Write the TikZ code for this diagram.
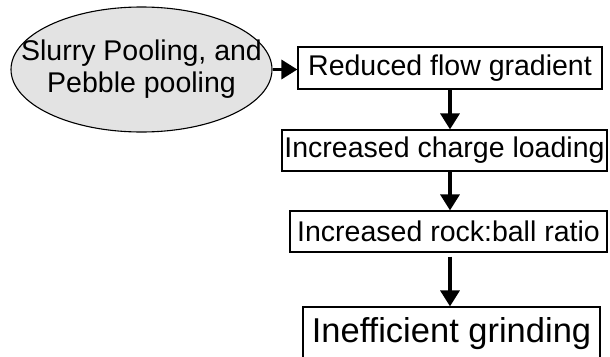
\documentclass[tikz,border=0pt]{standalone}
\usepackage{fontspec}
\setmainfont{Liberation Sans}
\usetikzlibrary{arrows.meta,shapes.geometric}
\definecolor{ellfill}{RGB}{227,227,227}
\begin{document}
\begin{tikzpicture}[x=1pt,y=-1pt,
  txt/.style={font=\fontsize{28.5}{32}\selectfont},
  flowbox/.style={draw, line width=1.2pt, rectangle, inner sep=0pt, txt},
  conn/.style={line width=3.4pt, -{Triangle[length=16pt,width=19pt]}}]
\clip (0,0) rectangle (610,356);
\node[ellipse, draw, fill=ellfill, line width=1.1pt, minimum width=261pt, minimum height=125pt, inner sep=0pt] (src) at (141.5,69.5) {};
\node[txt, align=center, inner sep=0pt] (srctxt) at (src.center) {Slurry Pooling, and\\Pebble pooling};
\node[flowbox, minimum width=304pt, minimum height=42pt] (b1) at (450,68) {Reduced flow gradient};
\node[flowbox, minimum width=325pt, minimum height=41pt] (b2) at (444.5,150.5) {Increased charge loading};
\node[flowbox, minimum width=317pt, minimum height=41pt] (b3) at (448.5,231.5) {Increased rock:ball ratio};
\node[flowbox, minimum width=297pt, minimum height=53pt, font=\fontsize{34.5}{40}\selectfont] (b4) at (451.5,333.5) {Inefficient grinding};
\draw[conn] (src.east) -- (src.east -| b1.west);
\draw[conn] (b1.south) -- (b1.south |- b2.north);
\draw[conn] (b2.south -| b1.south) -- (b1.south |- b3.north);
\draw[conn, shorten <=4pt] (b3.south -| b1.south) -- (b1.south |- b4.north);
\end{tikzpicture}
\end{document}
